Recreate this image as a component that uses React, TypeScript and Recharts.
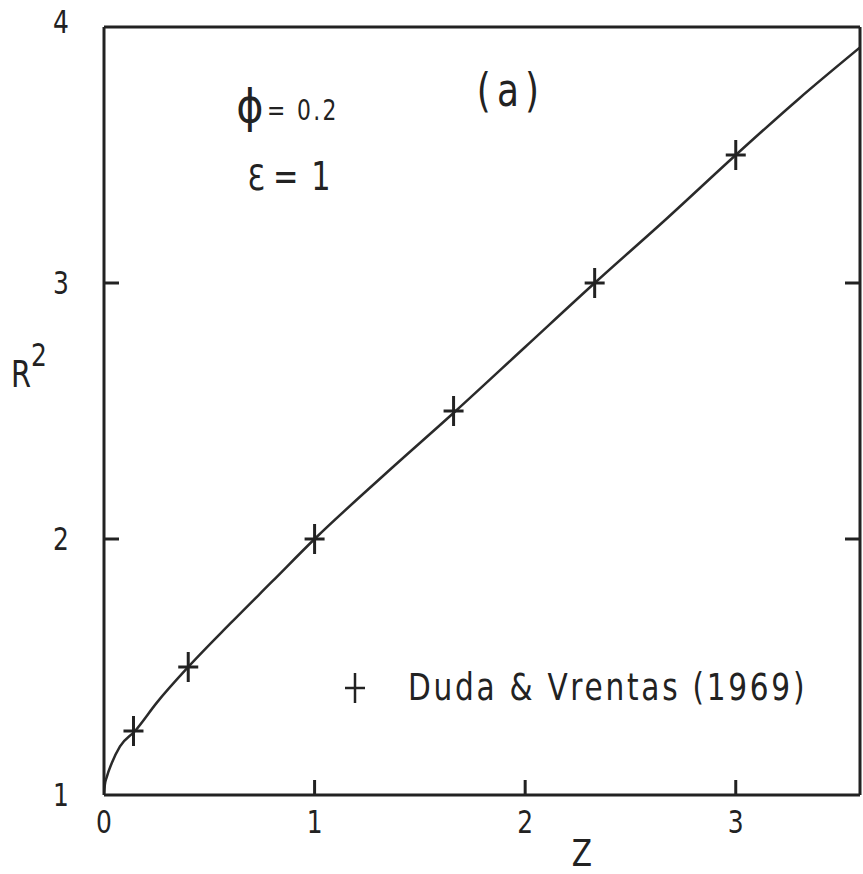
import React from "react";
import { ComposedChart, Line, Scatter, XAxis, YAxis } from "recharts";

// Computed R² profile along the axial coordinate Z
const curveZ = [0, 0.004, 0.013, 0.037, 0.076, 0.147, 0.25, 0.4, 0.6, 0.8, 1.0, 1.33, 1.67, 2.0, 2.33, 2.67, 3.0, 3.3, 3.59];
const curveR2 = [1.0, 1.04, 1.07, 1.125, 1.19, 1.25, 1.36, 1.5, 1.67, 1.835, 2.0, 2.25, 2.5, 2.75, 3.0, 3.25, 3.5, 3.72, 3.92];

// Duda & Vrentas (1969) comparison points
const dvZ = [0.14, 0.4, 1.0, 1.66, 2.33, 3.0];
const dvR2 = [1.25, 1.5, 2.0, 2.5, 3.0, 3.5];

const xTicks = [0, 1, 2, 3];
const yTicks = [1, 2, 3, 4];
const innerXTicks = [1, 2, 3];
const innerYTicks = [2, 3];

const curveData = curveZ.map((z, i) => ({ z, r2: curveR2[i] }));
const dvData = dvZ.map((z, i) => ({ z, r2: dvR2[i] }));

const INK = "#222";
const FONT = "'DejaVu Sans', sans-serif";
const TICK_LEN = 15;
const NARROW = 0.78;

// Text drawn with a horizontally condensed DejaVu face
const NarrowText = (props: any) => {
  const { x, y, children, scale = NARROW, ...rest } = props;
  return (
    <text
      transform={`translate(${x},${y}) scale(${scale},1)`}
      fontFamily={FONT}
      fill={INK}
      {...rest}
    >
      {children}
    </text>
  );
};

const BottomTick = (props: any) => {
  const { x, y, payload } = props;
  return (
    <g>
      {payload.value !== 0 && (
        <line x1={x} y1={y} x2={x} y2={y - TICK_LEN} stroke={INK} strokeWidth={3} />
      )}
      <NarrowText x={x} y={y + 38} textAnchor="middle" fontSize={32}>
        {payload.value}
      </NarrowText>
    </g>
  );
};

const LeftTick = (props: any) => {
  const { x, y, payload } = props;
  return (
    <g>
      {payload.value !== 1 && payload.value !== 4 && (
        <line x1={x} y1={y} x2={x + TICK_LEN} y2={y} stroke={INK} strokeWidth={3} />
      )}
      <NarrowText x={x - 43} y={y + (payload.value === 4 ? 6 : 11)} textAnchor="middle" fontSize={32}>
        {payload.value}
      </NarrowText>
    </g>
  );
};

const TopTick = (props: any) => {
  const { x, y } = props;
  return <line x1={x} y1={y} x2={x} y2={y + TICK_LEN} stroke={INK} strokeWidth={3} />;
};

const RightTick = (props: any) => {
  const { x, y } = props;
  return <line x1={x} y1={y} x2={x - TICK_LEN} y2={y} stroke={INK} strokeWidth={3} />;
};

const CrossMark = (props: any) => {
  const { cx, cy } = props;
  return (
    <g stroke={INK} strokeWidth={3}>
      <line x1={cx} y1={cy - 15} x2={cx} y2={cy + 15} />
      <line x1={cx - 10} y1={cy} x2={cx + 10} y2={cy} />
    </g>
  );
};

const frame = { stroke: INK, strokeWidth: 3 };

export default function App() {
  return (
    <div style={{ position: "absolute", left: 0, top: 0, width: 863, height: 874, background: "#fff" }}>
      <ComposedChart
        width={863}
        height={874}
        margin={{ top: 26, right: 2, bottom: 78, left: 103 }}
      >
        <XAxis
          xAxisId="b"
          dataKey="z"
          type="number"
          domain={[0, 3.59]}
          ticks={xTicks}
          height={1}
          tickSize={0}
          tickMargin={0}
          tickLine={false}
          axisLine={frame}
          tick={<BottomTick />}
          interval={0}
          allowDataOverflow
        />
        <XAxis
          xAxisId="t"
          orientation="top"
          type="number"
          domain={[0, 3.59]}
          ticks={innerXTicks}
          height={1}
          tickSize={0}
          tickMargin={0}
          tickLine={false}
          axisLine={frame}
          tick={<TopTick />}
          interval={0}
          allowDataOverflow
        />
        <YAxis
          yAxisId="l"
          dataKey="r2"
          type="number"
          domain={[1, 4]}
          ticks={yTicks}
          width={1}
          tickSize={0}
          tickMargin={0}
          tickLine={false}
          axisLine={frame}
          tick={<LeftTick />}
          interval={0}
          allowDataOverflow
        />
        <YAxis
          yAxisId="r"
          orientation="right"
          type="number"
          domain={[1, 4]}
          ticks={innerYTicks}
          width={1}
          tickSize={0}
          tickMargin={0}
          tickLine={false}
          axisLine={frame}
          tick={<RightTick />}
          interval={0}
          allowDataOverflow
        />
        <Line
          xAxisId="b"
          yAxisId="l"
          data={curveData}
          dataKey="r2"
          type="monotone"
          stroke="#2a2a2a"
          strokeWidth={2.5}
          dot={false}
          activeDot={false}
          isAnimationActive={false}
        />
        <Scatter
          xAxisId="b"
          yAxisId="l"
          data={dvData}
          dataKey="r2"
          shape={<CrossMark />}
          isAnimationActive={false}
        />
      </ComposedChart>

      <svg
        width={863}
        height={874}
        style={{ position: "absolute", left: 0, top: 0, pointerEvents: "none" }}
      >
        {/* axis titles */}
        <NarrowText x={21} y={387} textAnchor="middle" fontSize={37}>R</NarrowText>
        <NarrowText x={39} y={366} textAnchor="middle" fontSize={32}>2</NarrowText>
        <NarrowText x={582} y={866} textAnchor="middle" fontSize={38}>Z</NarrowText>

        {/* parameters */}
        <NarrowText x={250} y={122} textAnchor="middle" fontSize={46} scale={0.9}>ϕ</NarrowText>
        <NarrowText x={267} y={120} fontSize={28} letterSpacing={3}>= 0.2</NarrowText>
        <NarrowText x={256} y={190} textAnchor="middle" fontSize={36}>Ɛ</NarrowText>
        <NarrowText x={273} y={190} fontSize={39} letterSpacing={2}>= 1</NarrowText>

        {/* panel tag */}
        <NarrowText x={511} y={106} textAnchor="middle" fontSize={46} letterSpacing={8}>(a)</NarrowText>

        {/* legend */}
        <g stroke={INK} strokeWidth={2.5}>
          <line x1={355} y1={673} x2={355} y2={703} />
          <line x1={345} y1={688} x2={365} y2={688} />
        </g>
        <NarrowText x={408} y={700} fontSize={37} letterSpacing={3.4} scale={0.8}>
          Duda &amp; Vrentas (1969)
        </NarrowText>
      </svg>
    </div>
  );
}
